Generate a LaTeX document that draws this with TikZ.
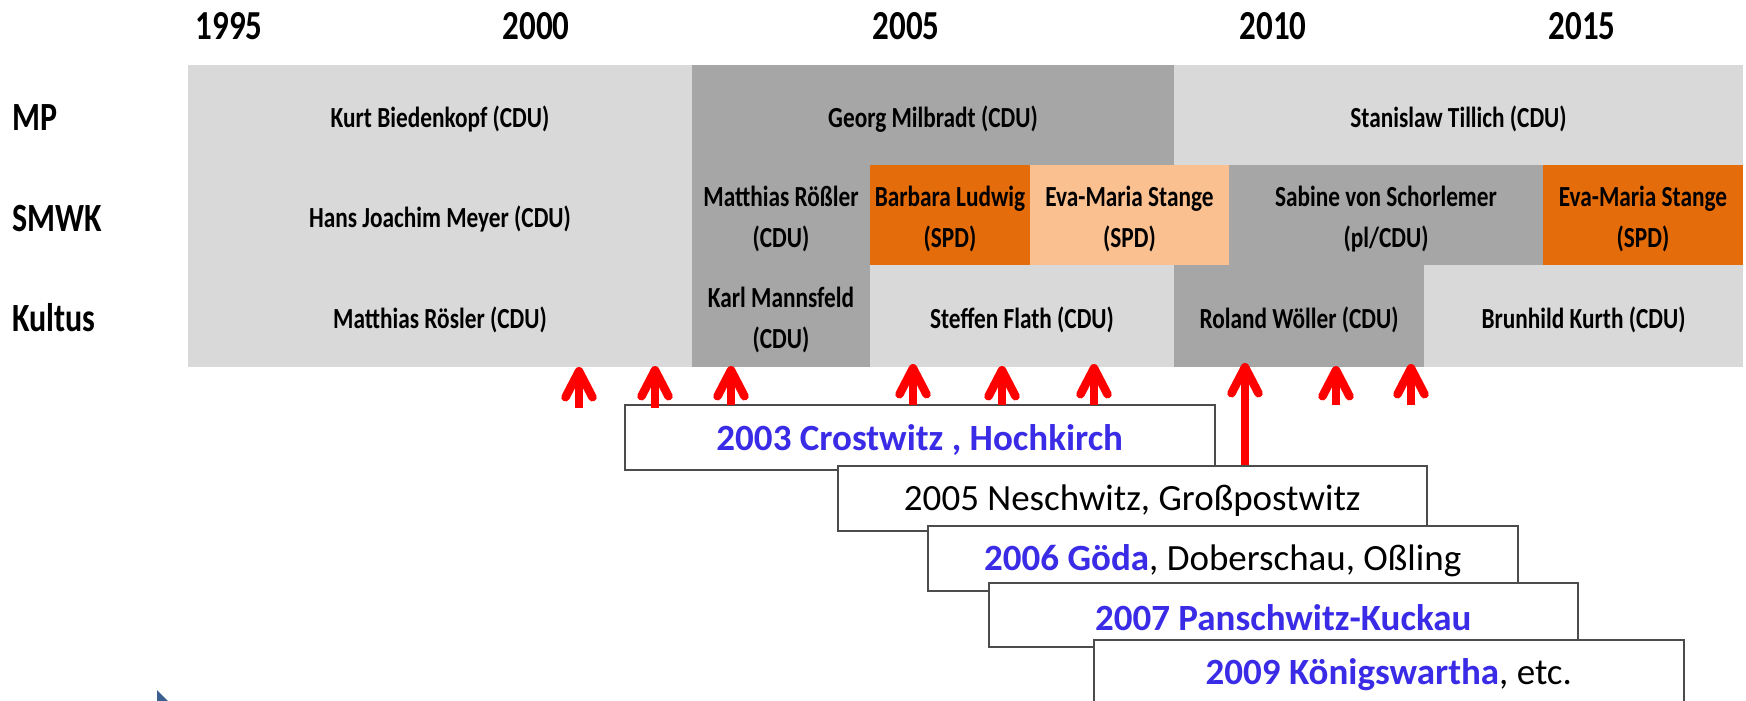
\documentclass[tikz,border=0pt]{standalone}
\usepackage{fontspec}
\usepackage{graphicx}
\setmainfont{Carlito}
\usetikzlibrary{arrows.meta}
\definecolor{lg}{HTML}{D9D9D9}
\definecolor{dg}{HTML}{A6A6A6}
\definecolor{org}{HTML}{E46C0A}
\definecolor{pch}{HTML}{FAC090}
\definecolor{tblue}{HTML}{3A2BE6}
\definecolor{navtri}{HTML}{3B5F8E}
\newcommand\vst[1]{\raisebox{-4pt}[\height][\depth]{\scalebox{1}[1.25]{\begin{tabular}{@{}c@{}}#1\end{tabular}}}}
\newcommand\lowr[1]{\raisebox{-2.5pt}[\height][\depth]{#1}}
\begin{document}
\begin{tikzpicture}[x=1pt,y=-1pt,
  cell/.style={inner sep=0pt, outer sep=0pt, anchor=north west, align=center,
    font=\fontsize{23.3}{33}\selectfont\bfseries},
  yearlbl/.style={inner sep=0pt, font=\fontsize{33}{40}\selectfont\bfseries},
  rowlbl/.style={inner sep=0pt, anchor=west, font=\fontsize{32}{40}\selectfont\bfseries},
  placebox/.style={draw=black!70, line width=1.5pt, fill=white, inner sep=0pt,
    anchor=north west, font=\fontsize{37}{44}\selectfont},
  redarrow/.style={draw=red, line width=8.5pt,
    -{Straight Barb[length=26pt, width=27pt, round]}}
]
\clip (0,0) rectangle (1746,701);
\useasboundingbox (0,0) rectangle (1746,701);

% years
\node[yearlbl] (y1995) at (229,26) {\vst{1995}};
\node[yearlbl] (y2000) at (536,26) {\vst{2000}};
\node[yearlbl] (y2005) at (906,26) {\vst{2005}};
\node[yearlbl] (y2010) at (1273,26) {\vst{2010}};
\node[yearlbl] (y2015) at (1582,26) {\vst{2015}};

% row labels
\node[rowlbl] (rMP) at (12,117) {\vst{MP}};
\node[rowlbl] (rSMWK) at (12,217) {\vst{SMWK}};
\node[rowlbl] (rKultus) at (12,317) {\vst{Kultus}};

% MP row
\node[cell, fill=lg, minimum width=504pt, minimum height=100pt] (kb) at (188,65) {\vst{Kurt Biedenkopf (CDU)}};
\node[cell, fill=dg, minimum width=482pt, minimum height=100pt] (gm) at (692,65) {\vst{Georg Milbradt (CDU)}};
\node[cell, fill=lg, minimum width=569pt, minimum height=100pt] (st) at (1174,65) {\vst{Stanislaw Tillich (CDU)}};

% SMWK row
\node[cell, fill=lg, minimum width=504pt, minimum height=100pt] (hjm) at (188,165) {\vst{Hans Joachim Meyer (CDU)}};
\node[cell, fill=dg, minimum width=178pt, minimum height=100pt] (mr) at (692,165) {\vst{Matthias Rößler\\(CDU)}};
\node[cell, fill=org, minimum width=160pt, minimum height=100pt] (bl) at (870,165) {\vst{Barbara Ludwig\\(SPD)}};
\node[cell, fill=pch, minimum width=199pt, minimum height=100pt] (ems1) at (1030,165) {\vst{Eva-Maria Stange\\(SPD)}};
\node[cell, fill=dg, minimum width=314pt, minimum height=100pt] (svs) at (1229,165) {\vst{Sabine von Schorlemer\\(pl/CDU)}};
\node[cell, fill=org, minimum width=200pt, minimum height=100pt] (ems2) at (1543,165) {\vst{Eva-Maria Stange\\(SPD)}};

% Kultus row
\node[cell, fill=lg, minimum width=504pt, minimum height=102pt] (mro) at (188,265) {\vst{Matthias Rösler (CDU)}};
\node[cell, fill=dg, minimum width=178pt, minimum height=102pt] (km) at (692,265) {\vst{Karl Mannsfeld\\(CDU)}};
\node[cell, fill=lg, minimum width=304pt, minimum height=102pt] (sf) at (870,265) {\vst{Steffen Flath (CDU)}};
\node[cell, fill=dg, minimum width=250pt, minimum height=102pt] (rw) at (1174,265) {\vst{Roland Wöller (CDU)}};
\node[cell, fill=lg, minimum width=319pt, minimum height=102pt] (bk) at (1424,265) {\vst{Brunhild Kurth (CDU)}};

% place boxes
\node[placebox, minimum width=590pt, minimum height=65pt] (b1) at (624,404) {\lowr{\textcolor{tblue}{\bfseries 2003 Crostwitz , Hochkirch}}};
\node[placebox, minimum width=589pt, minimum height=65pt] (b2) at (837,465) {\lowr{2005 Neschwitz, Großpostwitz}};
\node[placebox, minimum width=590pt, minimum height=65pt] (b3) at (927,525) {\lowr{\textcolor{tblue}{\bfseries 2006 Göda}, Doberschau, Oßling}};
\node[placebox, minimum width=589pt, minimum height=64pt] (b4) at (988,582) {\lowr{\textcolor{tblue}{\bfseries 2007 Panschwitz-Kuckau}}};
\node[placebox, minimum width=590pt, minimum height=65pt] (b5) at (1093,639) {\lowr{\textcolor{tblue}{\bfseries 2009 Königswartha}, etc.}};

% arrows
\coordinate (a1b) at (579,408); \coordinate (a1t) at (579,367);
\coordinate (a2b) at (655,408); \coordinate (a2t) at (655,366);
\coordinate (a3b) at (731,405); \coordinate (a3t) at (731,366);
\coordinate (a4b) at (913,405); \coordinate (a4t) at (913,364);
\coordinate (a5b) at (1002,405); \coordinate (a5t) at (1002,366);
\coordinate (a6b) at (1094,405); \coordinate (a6t) at (1094,364);
\coordinate (a7b) at (1245,465); \coordinate (a7t) at (1245,363);
\coordinate (a8b) at (1336,405); \coordinate (a8t) at (1336,366);
\coordinate (a9b) at (1411,405); \coordinate (a9t) at (1411,364);
\foreach \i in {1,...,9} { \draw[redarrow] (a\i b) -- (a\i t); }

% navigation triangle fragment
\fill[navtri] (157,690) -- (168,701) -- (157,701) -- cycle;
\end{tikzpicture}
\end{document}
